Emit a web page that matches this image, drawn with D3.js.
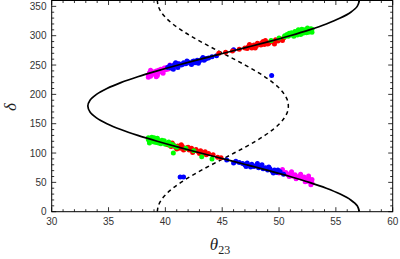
<!DOCTYPE html>
<html><head><meta charset="utf-8">
<script src="https://cdn.jsdelivr.net/npm/d3@7"></script>
<style>body{margin:0;background:#fff}svg{display:block}</style>
</head><body>
<script>
// Data: [theta23, delta]
const xTicks = [30,35,40,45,50,55,60];
const yTicks = [0,50,100,150,200,250,300,350];

// solid curve (theta vs delta)
const solidDelta = [0,10,20,30,40,50,60,70,80,90,100,110,120,130,140,150,160,170,180,190,200,210,220,230,240,250,260,270,280,290,300,310,320,330,340,350,360];
const solidTheta = [57.07,56.88,56.31,55.38,54.16,52.67,50.96,49.10,47.13,45.11,43.10,41.13,39.28,37.57,36.08,34.86,33.94,33.37,33.18,33.37,33.94,34.86,36.08,37.57,39.28,41.13,43.10,45.11,47.13,49.10,50.96,52.67,54.16,55.38,56.31,56.88,57.07];
// dashed curve
const dashDelta = solidDelta;
const dashTheta = [39.29,39.38,39.64,40.07,40.65,41.37,42.19,43.10,44.06,45.06,46.05,47.02,47.93,48.75,49.46,50.05,50.47,50.74,50.82,50.74,50.47,50.05,49.46,48.75,47.93,47.02,46.05,45.06,44.06,43.10,42.19,41.37,40.65,40.07,39.64,39.38,39.29];

const pinkPts = [[38.5,233],[38.6,237],[38.7,231],[38.8,239],[38.9,235],[39.0,238],[39.1,234],[39.2,240],[39.3,236],[39.4,241],[39.5,238],[39.6,243],[39.7,239],[39.8,241],[39.9,245],[40.0,242],[40.1,246],[40.3,244],[40.5,248],[40.6,245],[40.8,250],[41.0,247],[38.6,234],[39.0,236],[39.5,240],[40.2,243],[38.8,236],[39.3,232],[41.0,253],[38.5,229],[38.7,241],[39.2,230],[39.8,236],[40.4,250],
 [49.5,70],[49.8,68],[50.0,66],[50.2,69],[50.4,65],[50.6,67],[50.8,63],[51.0,65],[51.2,61],[51.4,63],[51.6,59],[51.8,61],[52.0,57],[52.2,59],[52.4,55],[52.5,52],[52.6,57],[52.7,53],[52.8,50],[52.9,55],[52.8,46],[51.5,56],[50.9,60],[52.3,51],[51.1,68],[51.9,64],[52.6,61],[50.3,72],[52.9,49]];
const bluePts = [[40.2,246],[40.4,249],[40.6,247],[40.8,251],[41.0,249],[41.2,252],[41.4,250],[41.6,254],[41.8,252],[42.0,255],[42.2,253],[42.4,256],[42.6,254],[42.8,258],[43.0,257],[43.2,260],[43.4,258],[43.6,261],[43.8,262],[44.1,264],[44.5,266],[40.5,245],[41.5,251],[42.5,257],[43.5,260],[40.9,254],[42.3,251],[46.0,276],[49.35,232],[41.1,246],[41.9,257],[42.9,253],[43.3,263],[40.7,243],
 [45.4,88],[46.2,86],[46.5,84],[46.8,82],[47.0,80],[47.2,83],[47.4,79],[47.6,81],[47.8,77],[48.0,79],[48.2,75],[48.4,77],[48.6,73],[48.8,75],[49.0,71],[49.2,73],[49.4,69],[49.6,71],[49.8,67],[50.1,68],[50.4,64],[47.5,76],[48.5,80],[49.5,66],[46.0,83],[41.3,59],[41.6,59],[47.1,77],[48.1,82],[49.1,76],[49.9,71]];
const redPts = [[44.7,270],[45.3,272],[45.9,274],[46.5,277],[47.0,279],[47.3,281],[47.5,283],[47.6,279],[47.8,284],[48.0,282],[48.2,286],[48.4,284],[48.5,288],[48.7,285],[48.9,289],[49.1,287],[49.3,291],[49.5,289],[49.7,293],[49.9,291],[50.1,294],[50.3,292],[47.2,278],[48.1,287],[49.0,286],[47.7,281],[48.6,290],[50.4,296],[47.9,279],[48.8,292],[49.6,286],[47.4,285],
 [40.2,114],[40.5,111],[40.7,114],[40.9,110],[41.1,112],[41.3,108],[41.5,111],[41.7,107],[41.9,109],[42.1,105],[42.3,108],[42.5,104],[42.7,106],[42.9,102],[43.1,104],[43.3,100],[43.5,102],[43.8,99],[44.2,97],[44.6,93],[44.9,92],[41.0,107],[42.0,110],[43.0,99],[41.6,105],[40.6,117],[41.4,114],[42.4,101],[43.6,97]];
const greenPts = [[49.3,292],[50.0,296],[50.5,298],[50.8,299],[51.0,301],[51.2,303],[51.3,299],[51.5,304],[51.6,301],[51.8,305],[51.9,302],[52.0,307],[52.1,304],[52.3,308],[52.4,305],[52.5,309],[52.6,306],[52.7,310],[52.8,308],[52.9,311],[51.1,305],[51.7,307],[52.2,310],[50.7,302],[52.9,306],[50.5,300],[51.4,307],[52.0,311],[52.5,313],[52.8,312],[51.7,310],[50.9,304],
 [38.5,123],[38.6,120],[38.7,125],[38.8,121],[38.9,124],[39.0,119],[39.1,122],[39.2,118],[39.3,121],[39.4,117],[39.5,120],[39.6,116],[39.8,118],[40.0,115],[40.2,117],[40.4,113],[40.6,115],[40.8,112],[41.0,110],[38.6,117],[39.0,126],[40.7,100],[43.2,93.6],[44.1,90],[41.8,108],[42.5,104],[39.7,122],[40.3,119],[38.5,126],[38.8,127],[39.3,125],[39.9,121]];

const W = 400, H = 259;
const L = 51.7, R = 392.7, T = 0.5, B = 211.7;
const svg = d3.select("body").append("svg").attr("width", W).attr("height", H);
const x = d3.scaleLinear().domain([30,60]).range([L,R]);
const y = d3.scaleLinear().domain([0,360]).range([B,T]);

svg.append("defs").append("clipPath").attr("id","clip")
  .append("rect").attr("x",L).attr("y",T).attr("width",R-L).attr("height",B-T);
const plot = svg.append("g").attr("clip-path","url(#clip)");

const line = d3.line().x(d=>x(d[0])).y(d=>y(d[1])).curve(d3.curveCatmullRom);
plot.append("path").datum(dashTheta.map((t,i)=>[t,dashDelta[i]]))
  .attr("d",line).attr("fill","none").attr("stroke","#000").attr("stroke-width",1.5)
  .attr("stroke-dasharray","4,3.5");

[[pinkPts,"#ff00ff"],[bluePts,"#0000ff"],[redPts,"#ff0000"],[greenPts,"#00ff00"]].forEach(([pts,c])=>{
  plot.append("g").selectAll("circle").data(pts).join("circle")
    .attr("cx",d=>x(d[0])).attr("cy",d=>y(d[1])).attr("r",2.5).attr("fill",c);
});
plot.append("path").datum(solidTheta.map((t,i)=>[t,solidDelta[i]]))
  .attr("d",line).attr("fill","none").attr("stroke","#000").attr("stroke-width",1.7);

// frame
svg.append("rect").attr("x",L).attr("y",T).attr("width",R-L).attr("height",B-T)
  .attr("fill","none").attr("stroke","#000").attr("stroke-width",1);

const ax = svg.append("g").attr("stroke","#000").attr("stroke-width",0.8);
d3.range(30,61,1).forEach(v=>{
  const len = v%5===0?4.5:2.5;
  ax.append("line").attr("x1",x(v)).attr("x2",x(v)).attr("y1",B).attr("y2",B-len);
  ax.append("line").attr("x1",x(v)).attr("x2",x(v)).attr("y1",T).attr("y2",T+len);
});
d3.range(0,361,10).forEach(v=>{
  const len = v%50===0?4.5:2.5;
  ax.append("line").attr("y1",y(v)).attr("y2",y(v)).attr("x1",L).attr("x2",L+len);
  ax.append("line").attr("y1",y(v)).attr("y2",y(v)).attr("x1",R).attr("x2",R-len);
});

const tf = "'Liberation Sans', Arial, sans-serif";
svg.append("g").selectAll("text").data(xTicks).join("text")
  .attr("x",d=>x(d)).attr("y",224.5).attr("text-anchor","middle")
  .attr("font-family",tf).attr("font-size",10).attr("fill","#333").text(d=>d);
svg.append("g").selectAll("text").data(yTicks).join("text")
  .attr("x",46.5).attr("y",d=>y(d)+3.5).attr("text-anchor","end")
  .attr("font-family",tf).attr("font-size",10).attr("fill","#333").text(d=>d);

const xl = svg.append("text").attr("x",220).attr("y",250).attr("text-anchor","middle")
  .attr("font-family","'Liberation Serif', 'Times New Roman', serif").attr("font-size",17).attr("fill","#222");
xl.append("tspan").attr("font-style","italic").text("θ");
xl.append("tspan").attr("font-size",12).attr("dy",4).text("23");

svg.append("text").attr("transform","translate(16,107) rotate(-90)").attr("text-anchor","middle")
  .attr("font-family","'Liberation Serif', 'Times New Roman', serif").attr("font-style","italic")
  .attr("font-size",17).attr("fill","#222").text("δ");
</script>
</body></html>
